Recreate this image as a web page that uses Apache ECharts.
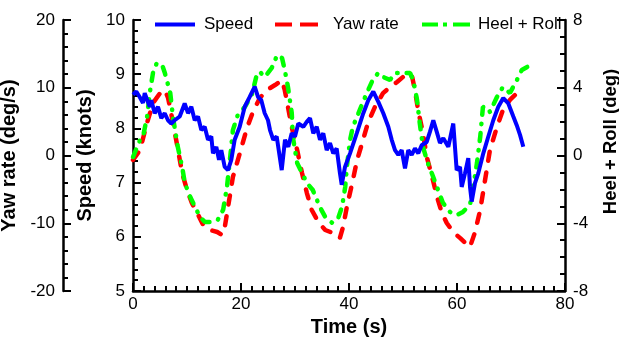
<!DOCTYPE html>
<html>
<head>
<meta charset="utf-8">
<script src="https://cdn.jsdelivr.net/npm/echarts@6/dist/echarts.min.js"></script>
<style>
    html, body { margin: 0; padding: 0; background: #fff; }
    #chart { width: 619px; height: 343px; }
</style>
</head>
<body>
<div id="chart"></div>
<script>
    // speed (knots)
    const speedTime = [0,0.61,1.24,1.85,2.17,2.46,3.09,3.39,4.02,4.63,5.24,5.87,6.48,7.09,7.72,8.65,9.57,10.19,10.8,11.43,12.04,12.65,13.28,13.89,14.5,14.81,15.43,15.93,16.35,16.98,17.59,18.2,18.83,19.76,20.69,21.61,22.54,23.15,23.76,24.39,25,25.37,25.98,26.61,27.54,28.15,28.76,29.39,30,30.61,31.54,32.17,32.78,33.39,34.02,34.63,35.24,35.87,36.48,37.09,37.72,38.33,38.65,39.26,40.19,41.43,42.65,43.57,44.5,45.43,46.35,47.28,47.91,48.52,49.13,49.76,50.37,50.98,51.61,52.22,52.83,53.46,54.39,55,55.61,56.24,56.85,57.46,58.39,59.31,59.94,60.56,60.87,61.48,62.09,62.41,62.72,63.33,63.94,64.87,65.8,66.72,67.65,68.57,69.5,70.43,71.06,71.67,72.28];
    const speedValues = [8.62,8.68,8.58,8.47,8.65,8.62,8.40,8.52,8.28,8.40,8.19,8.28,8.15,8.09,8.15,8.22,8.46,8.28,8.40,8.15,8.22,7.97,8.03,7.79,7.85,7.54,7.66,7.42,7.60,7.29,7.23,7.42,7.79,8.03,8.40,8.58,8.77,8.58,8.52,8.28,8.15,7.97,7.79,7.85,7.23,7.79,7.66,7.91,7.85,8.09,8.03,8.12,8.19,7.91,8.03,7.79,7.91,7.60,7.73,7.54,7.63,7.17,6.96,7.29,7.54,7.91,8.28,8.52,8.68,8.49,8.28,8.03,7.79,7.60,7.51,7.60,7.26,7.60,7.51,7.63,7.54,7.69,7.75,7.94,8.15,7.94,7.73,7.82,7.66,8.09,7.23,7.29,6.92,7.17,7.45,6.92,6.65,6.99,7.17,7.54,7.85,8.15,8.40,8.56,8.46,8.22,8.06,7.88,7.66];

    // yaw rate (deg/s), red dashed
    const yawTime = [0,1.3,2.6,3.7,5,5.9,6.5,7.2,8.1,9.1,10,10.9,11.9,13,14.3,15.6,16.5,17,17.6,18.5,19.8,21.1,22.2,23.5,24.8,26.3,27.6,28.1,28.7,29.4,30.4,31.3,32.2,33.1,34.3,35.6,37,38.3,38.9,39.6,40.6,41.5,42.6,43.5,44.8,46.3,47.6,48.9,50,50.9,51.7,52.2,52.8,53.7,54.4,55.4,56.3,57.2,58.1,59.3,60.6,61.9,62.4,63.3,64.3,65.2,66.1,67.4,68.5,69.8,71.1,72.2];
    const yawValues = [-0.66,0.81,4.8,7.75,9.2,9.67,8.49,5.68,1.85,-2.58,-5.09,-7.0,-8.49,-10.26,-11.0,-11.29,-11.73,-10.55,-7.6,-3.17,0.37,4.06,6.42,8.49,9.67,10.4,11.1,9.67,7.16,4.2,0.81,-2.58,-5.54,-8.04,-9.8,-11.0,-11.44,-12.2,-10.55,-7.6,-4.06,-0.66,2.29,4.8,7.16,9.2,10.1,10.85,11.6,12.2,11.6,9.67,6.7,3.3,-0.22,-3.17,-6.1,-8.5,-9.96,-11.3,-12.2,-13.2,-13.5,-11.4,-8.04,-3.6,0.81,4.2,6.7,8.2,9.2,9.96];

    // heel + roll (deg), green dash-dot
    const heelTime = [0,1.3,1.85,2.6,3.1,3.7,4.4,5.4,5.9,6.5,6.9,7.4,8.3,9.1,9.6,10.6,11.5,12.4,13.3,14.6,15.7,16.7,17.4,18,18.5,19.4,20.7,22,23,23.5,24.4,25.7,26.7,27.6,28.1,28.7,29.4,29.6,30.4,31.3,32.2,33.3,34.6,35.6,36.9,38,38.7,39.3,39.6,40.2,40.7,42,43.3,44.4,45.4,46.3,47.6,48.5,49.8,51.3,51.9,52.6,53.1,53.7,54.6,55.6,56.5,57.4,58.7,60,61.1,62.4,63,63.7,64.3,64.8,65.6,66.1,67.4,68.5,69.8,71.1,72,73];
    const heelValues = [-0.09,0.92,1.1,2.27,3.69,4.87,5.46,5.34,4.87,4.16,3.69,2.27,0.5,-0.68,-1.62,-2.45,-3.04,-3.63,-3.92,-3.92,-3.8,-3.2,-1.86,-0.09,1.5,2.39,2.86,3.57,4.87,4.93,4.64,5.17,5.93,5.76,5.05,4.04,2.51,1.1,-0.44,-1.03,-1.62,-2.04,-3.04,-3.63,-3.98,-3.69,-3.04,-1.86,-0.68,0.92,1.68,2.69,3.69,4.46,4.87,4.64,4.46,4.87,4.87,4.87,4.46,3.28,1.92,0.5,-0.44,-1.27,-2.04,-2.8,-3.33,-3.51,-3.33,-2.92,-1.86,-0.44,1.1,2.86,2.86,2.57,3.45,4.04,3.69,4.46,5.05,5.23];

    const font = "'Liberation Sans', Arial, sans-serif";
    const pair = (xs, ys) => xs.map((t, i) => [t, ys[i]]);

    function axisBase(min, max, interval, minorSplit) {
        return {
            type: 'value',
            min: min,
            max: max,
            interval: interval,
            axisLine: { show: true, onZero: false, lineStyle: { color: '#000', width: 2.5 } },
            axisTick: { show: true, inside: true, length: 8, lineStyle: { color: '#000', width: 2 } },
            minorTick: { show: true, splitNumber: minorSplit, length: 5, lineStyle: { color: '#000', width: 2 } },
            splitLine: { show: false },
            axisLabel: { color: '#000', fontSize: 17, fontFamily: font, margin: 8 },
            nameTextStyle: { color: '#000', fontSize: 20, fontWeight: 'bold', fontFamily: font },
            nameLocation: 'middle',
            nameRotate: 90
        };
    }

    const chart = echarts.init(document.getElementById('chart'));

    const xAxis = axisBase(0, 80, 20, 10);
    xAxis.name = 'Time (s)';
    xAxis.nameRotate = 0;
    xAxis.nameGap = 22;
    xAxis.axisLabel.margin = 5;

    const speedAxis = axisBase(5, 10, 1, 5);
    speedAxis.name = 'Speed (knots)';
    speedAxis.position = 'left';
    speedAxis.nameGap = 33;

    const yawAxis = axisBase(-20, 20, 10, 5);
    yawAxis.name = 'Yaw rate (deg/s)';
    yawAxis.position = 'left';
    yawAxis.offset = 70;
    yawAxis.nameGap = 37;

    const heelAxis = axisBase(-8, 8, 4, 4);
    heelAxis.name = 'Heel + Roll (deg)';
    heelAxis.position = 'right';
    heelAxis.nameGap = 36;
    // this title sits a bit above the middle in the original
    heelAxis.nameTextStyle = Object.assign({}, heelAxis.nameTextStyle, { fontSize: 18.5, padding: [0, 0, 0, 28] });

    // legend samples drawn as filled paths (solid, dashed, dash-dot)
    function legendAt(name, left, icon, width, pad) {
        return {
            data: [{ name: name, icon: icon }],
            left: left,
            top: 11,
            itemWidth: width,
            itemHeight: 4,
            itemGap: 0,
            textStyle: { color: '#000', fontSize: 17, fontFamily: font, padding: [0, 0, 0, pad] }
        };
    }

    const option = {
        animation: false,
        backgroundColor: '#fff',
        grid: { left: 133, right: 54, top: 20, bottom: 52, outerBoundsMode: 'none', containLabel: false },
        legend: [
            legendAt('Speed', 150, 'path://M0,0h40v4h-40z', 40, 4),
            legendAt('Yaw rate', 270, 'path://M0,0h17v4h-17z M25,0h18v4h-18z', 43, 10),
            legendAt('Heel + Roll', 417, 'path://M0,0h16v4h-16z M21,0h4v4h-4z M31,0h17v4h-17z', 48, 3)
        ],
        xAxis: xAxis,
        yAxis: [speedAxis, yawAxis, heelAxis],
        series: [
            {
                name: 'Yaw rate',
                type: 'line',
                yAxisIndex: 1,
                symbol: 'none',
                z: 2,
                data: pair(yawTime, yawValues),
                lineStyle: { color: '#ff0000', width: 4.5, type: [9, 12], cap: 'round' },
                itemStyle: { color: '#ff0000' }
            },
            {
                name: 'Heel + Roll',
                type: 'line',
                yAxisIndex: 2,
                symbol: 'none',
                z: 3,
                data: pair(heelTime, heelValues),
                lineStyle: { color: '#00ff00', width: 4.5, type: [8, 9, 0.5, 9], cap: 'round' },
                itemStyle: { color: '#00ff00' }
            },
            {
                name: 'Speed',
                type: 'line',
                yAxisIndex: 0,
                symbol: 'none',
                z: 4,
                data: pair(speedTime, speedValues),
                lineStyle: { color: '#0000ff', width: 4 },
                itemStyle: { color: '#0000ff' }
            }
        ]
    };

    chart.setOption(option);
</script>
</body>
</html>
